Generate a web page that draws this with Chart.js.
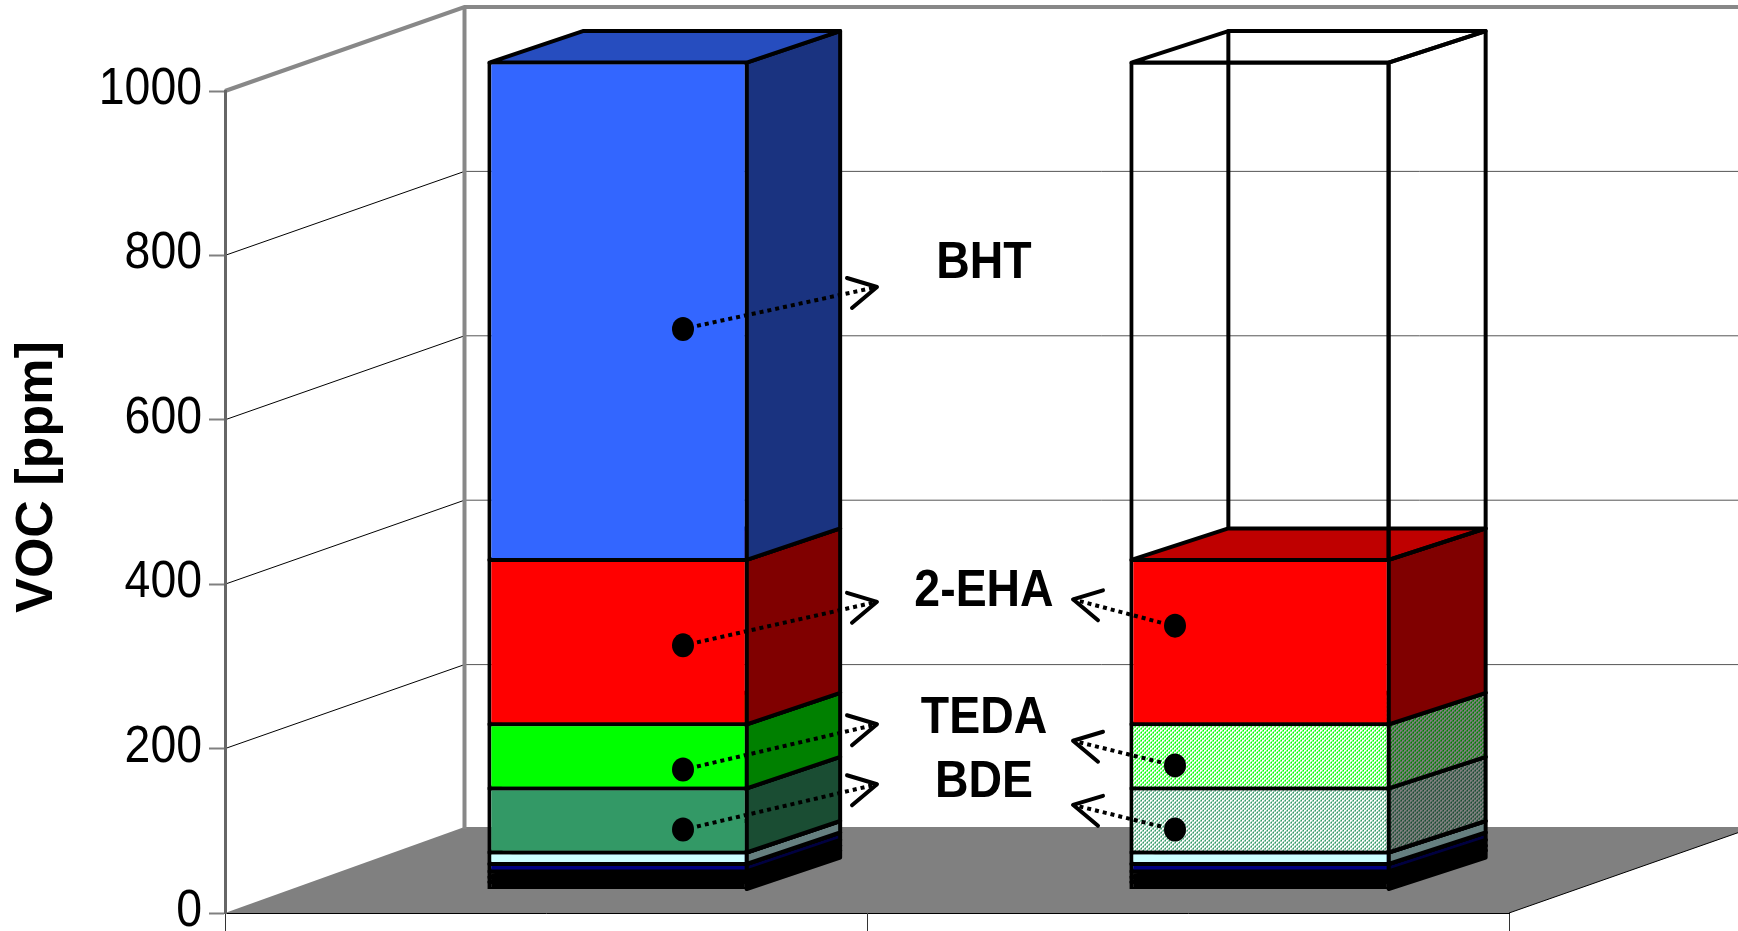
<!DOCTYPE html>
<html>
<head>
<meta charset="utf-8">
<title>VOC</title>
<style>
    html, body { margin: 0; padding: 0; background: #fff; overflow: hidden; }
    canvas { display: block; }
</style>
<script src="https://cdn.jsdelivr.net/npm/chart.js@4"></script>
</head>
<body>
<canvas id="vocChart" width="1738" height="931"></canvas>
<script>
const categories = ['', ''];
const yTicks = [0, 200, 400, 600, 800, 1000];

// ppm, bottom of the stack first
const trace1 = [9, 9];
const trace2 = [6, 6];
const trace3 = [7, 7];
const navy = [9, 9];
const cyan = [14, 14];
const bde = [78, 78];
const teda = [78, 78];
const eha = [200, 200];
const bht = [605, 605];

// callouts, heights in ppm
const calloutNames = ['BHT', '2-EHA', 'TEDA', 'BDE'];
const calloutLabelLevels = [761, 362, 207, 130];
const leftDotLevels = [682, 297, 146, 73];
const leftTipLevels = [733, 350, 201, 128];
const rightDotLevels = [null, 321, 151, 73];
const rightTipLevels = [null, 353, 181, 103];

const FONT = '"Liberation Sans", Arial, sans-serif';

// room depth and how far the bars stand behind the front plane
const wallDX = 239.5, wallDY = 84;
const planeDX = 72, planeDY = 23.5;
const barDX = [93.5, 97], barDY = 31.5;

function hatch(fg, bg) {
    const c = document.createElement('canvas');
    c.width = 4;
    c.height = 4;
    const g = c.getContext('2d');
    for (let x = 0; x < 4; x++) {
        for (let y = 0; y < 4; y++) {
            const d = (x + y) % 4;
            g.fillStyle = d === 0 || (d === 1 && y % 2 === 0) ? fg : bg;
            g.fillRect(x, y, 1, 1);
        }
    }
    return g.createPattern(c, 'repeat');
}

const ctxMain = document.getElementById('vocChart').getContext('2d');

const none = 'rgba(0,0,0,0)';
const tedaHatch = hatch('#00ff00', '#ffffff');
const bdeHatch = hatch('#339966', '#ffffff');
const tedaSideHatch = hatch('#008000', '#808080');
const bdeSideHatch = hatch('#1a4d33', '#808080');

// front, side, top colours per bar for each series
const seriesList = [
    { data: trace1, front: ['#000', '#000'], side: ['#000', '#000'], top: ['#000', '#000'] },
    { data: trace2, front: ['#000', '#000'], side: ['#000', '#000'], top: ['#000', '#000'] },
    { data: trace3, front: ['#000', '#000'], side: ['#000', '#000'], top: ['#000', '#000'] },
    { data: navy, front: ['#000080', '#000080'], side: ['#000040', '#000040'], top: ['#000060', '#000060'] },
    { data: cyan, front: ['#ccffff', '#ccffff'], side: ['#668080', '#668080'], top: ['#99bfbf', '#99bfbf'] },
    { data: bde, front: ['#339966', bdeHatch], side: ['#1a4d33', bdeSideHatch], top: ['#26734d', bdeSideHatch] },
    { data: teda, front: ['#00ff00', tedaHatch], side: ['#008000', tedaSideHatch], top: ['#00bf00', tedaSideHatch] },
    { data: eha, front: ['#ff0000', '#ff0000'], side: ['#800000', '#800000'], top: ['#bf0000', '#bf0000'] },
    { data: bht, front: ['#3366ff', none], side: ['#1a3380', none], top: ['#264dbf', none] }
];

function line(ctx, pts) {
    ctx.beginPath();
    pts.forEach((p, i) => i ? ctx.lineTo(p[0], p[1]) : ctx.moveTo(p[0], p[1]));
}

// the picture's text is a little squeezed sideways
function squeezedText(ctx, text, x, y, align, font) {
    ctx.save();
    ctx.translate(x, y);
    ctx.scale(0.91, 1);
    ctx.fillStyle = '#000';
    ctx.font = font;
    ctx.textAlign = align;
    ctx.textBaseline = 'middle';
    ctx.fillText(text, 0, 0);
    ctx.restore();
}

const room3d = {
    id: 'room3d',
    // walls, floor and the grid running round them
    beforeDraw(chart) {
        const { ctx, width, scales: { x: xs, y: ys } } = chart;
        const left = xs.left, right = xs.right;
        const zero = ys.getPixelForValue(0), top = ys.getPixelForValue(1000);
        const slope = wallDY / wallDX;
        ctx.save();
        ctx.fillStyle = '#808080';
        line(ctx, [[left, zero], [left + wallDX, zero - wallDY - 2], [width, zero - wallDY - 2],
            [width, zero - (width - right) * slope], [right, zero]]);
        ctx.closePath();
        ctx.fill();

        ctx.lineWidth = 1;
        ctx.strokeStyle = '#000';
        line(ctx, [[right, zero], [width, zero - (width - right) * slope]]);
        ctx.stroke();
        yTicks.slice(1, -1).forEach(v => {
            const y = ys.getPixelForValue(v);
            ctx.strokeStyle = '#000';
            line(ctx, [[left, y], [left + wallDX, y - wallDY]]);
            ctx.stroke();
            ctx.strokeStyle = '#555';
            line(ctx, [[left + wallDX, y - wallDY], [width, y - wallDY]]);
            ctx.stroke();
        });

        ctx.strokeStyle = '#888';
        ctx.lineWidth = 4;
        line(ctx, [[left, top], [left + wallDX, top - wallDY], [width, top - wallDY]]);
        ctx.stroke();
        line(ctx, [[left + wallDX, top - wallDY], [left + wallDX, zero - wallDY]]);
        ctx.stroke();

        // axis text
        ys.ticks.forEach(t => {
            squeezedText(ctx, String(t.value), left - 23, ys.getPixelForValue(t.value) - 1, 'right', '51px ' + FONT);
        });
        ctx.translate(38, (ys.top + ys.bottom) / 2 - 25);
        ctx.rotate(-Math.PI / 2);
        ctx.fillStyle = '#000';
        ctx.font = 'bold 52px ' + FONT;
        ctx.textAlign = 'center';
        ctx.textBaseline = 'middle';
        ctx.fillText('VOC [ppm]', 0, 0);
        ctx.restore();
    },
    // side and top faces go first, the library then paints the fronts over them
    beforeDatasetsDraw(chart) {
        const { ctx } = chart;
        ctx.save();
        ctx.translate(planeDX, -planeDY);
        ctx.lineWidth = 4;
        ctx.lineJoin = 'round';
        ctx.strokeStyle = '#000';
        seriesList.forEach((s, i) => {
            chart.getDatasetMeta(i).data.forEach((bar, j) => {
                const xl = bar.x - bar.width / 2 + 2, xr = bar.x + bar.width / 2 - 2;
                const yt = bar.y, yb = bar.base, dx = barDX[j];
                if (s.front[j] === none) {
                    line(ctx, [[xl + dx, yb - barDY], [xl + dx, yt - barDY], [xr + dx, yt - barDY]]);
                    ctx.stroke();
                }
                ctx.fillStyle = s.side[j];
                line(ctx, [[xr, yt], [xr + dx, yt - barDY], [xr + dx, yb - barDY], [xr, yb]]);
                ctx.closePath();
                ctx.fill();
                ctx.stroke();
                ctx.fillStyle = s.top[j];
                line(ctx, [[xl, yt], [xl + dx, yt - barDY], [xr + dx, yt - barDY], [xr, yt]]);
                ctx.closePath();
                ctx.fill();
                ctx.stroke();
            });
        });
    },
    afterDatasetsDraw(chart) {
        const { ctx, scales: { y: ys } } = chart;
        const barA = chart.getDatasetMeta(0).data[0], barB = chart.getDatasetMeta(0).data[1];
        const drawCallout = (dotX, dotLevel, tipX, tipLevel, dir) => {
            const dotY = ys.getPixelForValue(dotLevel), tipY = ys.getPixelForValue(tipLevel);
            ctx.fillStyle = '#000';
            ctx.strokeStyle = '#000';
            ctx.beginPath();
            ctx.ellipse(dotX, dotY, 11, 12, 0, 0, Math.PI * 2);
            ctx.fill();
            ctx.lineWidth = 4;
            ctx.lineCap = 'butt';
            ctx.setLineDash([4, 4]);
            line(ctx, [[dotX + dir * 14, dotY - 3], [tipX, tipY]]);
            ctx.stroke();
            ctx.setLineDash([]);
            ctx.lineWidth = 4;
            ctx.lineCap = 'round';
            line(ctx, [[tipX - dir * 30, tipY - 9], [tipX, tipY], [tipX - dir * 25, tipY + 21]]);
            ctx.stroke();
        };
        calloutNames.forEach((name, i) => {
            drawCallout(barA.x + 65, leftDotLevels[i], barA.x + 259, leftTipLevels[i], 1);
            if (rightDotLevels[i] !== null) {
                drawCallout(barB.x - 85, rightDotLevels[i], barB.x - 187, rightTipLevels[i], -1);
            }
            squeezedText(ctx, name, barA.x + 366, ys.getPixelForValue(calloutLabelLevels[i]), 'center', 'bold 51px ' + FONT);
        });
        ctx.restore();
    }
};

new Chart(ctxMain, {
    type: 'bar',
    data: {
        labels: categories,
        datasets: seriesList.map((s, i) => ({
            label: i > 4 ? ['BDE', 'TEDA', '2-EHA', 'BHT'][i - 5] : 'minor ' + (i + 1),
            data: s.data,
            backgroundColor: s.front,
            borderColor: '#000',
            borderWidth: { top: 2, bottom: 2, left: 4, right: 4 },
            borderSkipped: false,
            categoryPercentage: 1,
            barPercentage: 0.407,
            clip: false
        }))
    },
    options: {
        responsive: false,
        animation: false,
        layout: { autoPadding: false, padding: { top: 91, right: 229, left: 0, bottom: 0 } },
        plugins: { legend: { display: false }, tooltip: { enabled: false }, title: { display: false } },
        scales: {
            x: {
                stacked: true,
                afterFit(scale) { scale.height = 18; },
                ticks: { display: false },
                border: { color: '#000', width: 1 },
                grid: { offset: true, drawOnChartArea: false, tickLength: 18, tickColor: '#333', tickWidth: 1 }
            },
            y: {
                stacked: true,
                min: 0,
                max: 1000,
                afterFit(scale) {
                    scale.width = 225;
                    scale.paddingTop = 0;
                    scale.paddingBottom = 0;
                },
                afterBuildTicks(scale) { scale.ticks = yTicks.map(v => ({ value: v })); },
                ticks: { display: false },
                border: { color: '#666', width: 3 },
                grid: { drawOnChartArea: false, tickLength: 16, tickColor: '#808080', tickWidth: 2 }
            }
        }
    },
    plugins: [room3d]
});
</script>
</body>
</html>
